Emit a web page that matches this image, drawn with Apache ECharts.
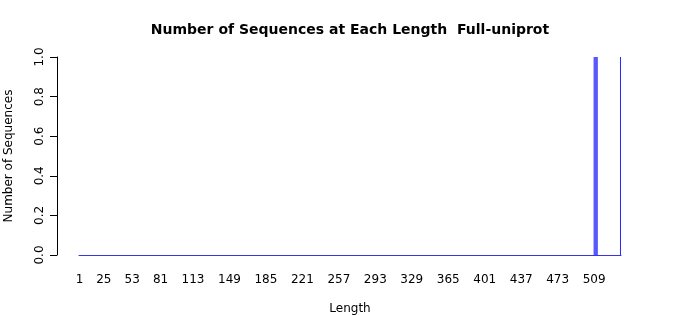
<!DOCTYPE html>
<html>
<head>
<meta charset="utf-8">
<script src="https://cdn.jsdelivr.net/npm/echarts@6/dist/echarts.min.js"></script>
<style>
html,body{margin:0;padding:0;background:#fff;}
#chart{width:700px;height:315px;}
</style>
</head>
<body>
<div id="chart"></div>
<script>
// Sequence lengths shown on the axis run from 1 to maxLength
var maxLength = 535;
// Lengths that have sequences, and their counts (all other lengths: 0)
var countLengths = [509, 510, 511, 512, 535];
var countValues = [1, 1, 1, 1, 1];
// Tick labels printed under the axis
var xTickLabels = ['1','25','53','81','113','149','185','221','257','293','329','365','401','437','473','509'];
var yTicks = [0, 0.2, 0.4, 0.6, 0.8, 1.0];

var categories = [];
var values = [];
for (var i = 1; i <= maxLength; i++) {
  categories.push(String(i));
  var k = countLengths.indexOf(i);
  values.push(k >= 0 ? countValues[k] : 0);
}

var FONT = 'DejaVu Sans';
var chart = echarts.init(document.getElementById('chart'), null, {renderer: 'canvas'});
chart.setOption({
  animation: false,
  backgroundColor: '#ffffff',
  title: {
    text: 'Number of Sequences at Each Length  Full-uniprot',
    left: 'center',
    top: 23,
    padding: 0,
    textStyle: {fontFamily: FONT, fontSize: 14, fontWeight: 'bold', color: '#000'}
  },
  grid: {left: 79, right: 79, top: 57, bottom: 60, containLabel: false, outerBoundsMode: 'none'},
  xAxis: {
    type: 'category',
    data: categories,
    boundaryGap: true,
    name: 'Length',
    nameLocation: 'middle',
    nameGap: 48,
    nameTextStyle: {fontFamily: FONT, fontSize: 12, color: '#000'},
    axisLine: {show: true, lineStyle: {color: '#3535e6', width: 1}},
    axisTick: {show: false},
    axisLabel: {
      interval: function (index, value) { return xTickLabels.indexOf(value) >= 0; },
      margin: 19,
      fontFamily: FONT, fontSize: 12, color: '#000'
    },
    splitLine: {show: false}
  },
  yAxis: {
    type: 'value',
    min: yTicks[0],
    max: yTicks[yTicks.length - 1],
    interval: 0.2,
    offset: 22,
    name: 'Number of Sequences',
    nameLocation: 'middle',
    nameRotate: 90,
    nameGap: 42,
    nameTextStyle: {fontFamily: FONT, fontSize: 12, color: '#000'},
    axisLine: {show: true, lineStyle: {color: '#000', width: 1}},
    axisTick: {show: true, length: 7, lineStyle: {color: '#000'}},
    axisLabel: {
      rotate: 90,
      margin: 11,
      fontFamily: FONT, fontSize: 12, color: '#000',
      formatter: function (v) { return v.toFixed(1); }
    },
    splitLine: {show: false}
  },
  series: [{
    type: 'bar',
    data: values,
    barCategoryGap: '0%',
    barGap: '0%',
    itemStyle: {color: '#2a2aff'}
  }]
});
</script>
</body>
</html>
